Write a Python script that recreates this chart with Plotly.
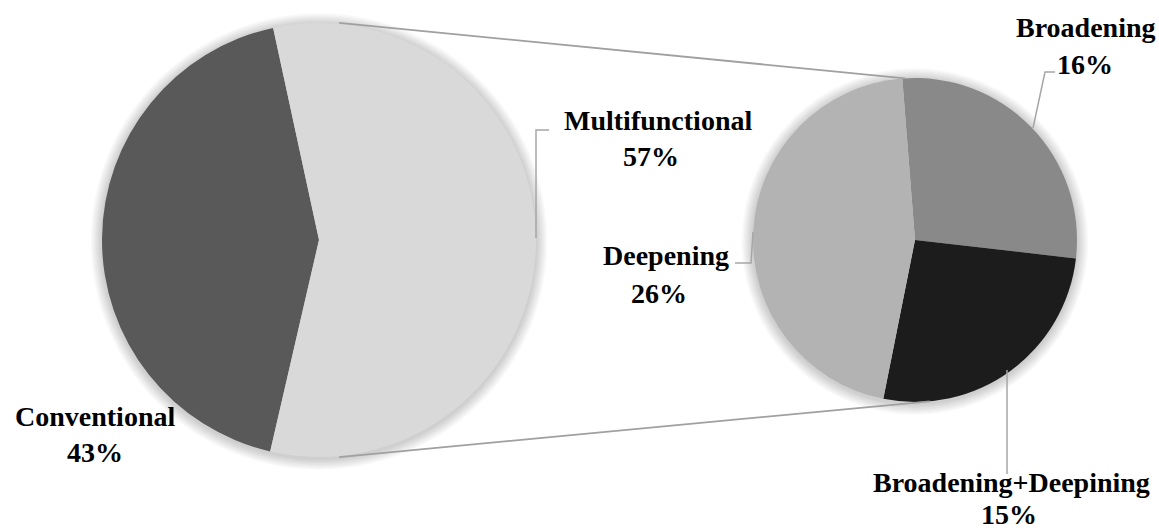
import math
import plotly.graph_objects as go

# ---- data -------------------------------------------------------------
main_labels = ["Conventional", "Multifunctional"]
main_values = [43, 57]
main_colors = ["#595959", "#d9d9d9"]

sub_labels = ["Broadening", "Broadening+Deepining", "Deepening"]
sub_values = [16, 15, 26]
sub_colors = ["#898989", "#1c1c1c", "#b3b3b3"]

# ---- canvas geometry (pixels) -----------------------------------------
W, H = 1159, 529
FONT = dict(family="Liberation Serif", size=28, color="#000000", weight="bold")

MAIN_C, MAIN_R = (319, 240), 217
SUB_C, SUB_R = (915, 240), 162


def px(x):
    return x / W


def py(y):
    return 1 - y / H


def domain(center, r):
    cx, cy = center
    return dict(x=[px(cx - r), px(cx + r)], y=[py(cy + r), py(cy - r)])


def on_circle(center, r, deg):
    """Point on a circle, angle measured clockwise from 12 o'clock."""
    a = math.radians(deg)
    return center[0] + r * math.sin(a), center[1] - r * math.cos(a)


fig = go.Figure()

fig.add_trace(go.Pie(
    labels=main_labels, values=main_values, sort=False, direction="clockwise",
    rotation=193, domain=domain(MAIN_C, MAIN_R), textinfo="none",
    hoverinfo="label+percent", showlegend=False,
    marker=dict(colors=main_colors, line=dict(width=0)),
))

fig.add_trace(go.Pie(
    labels=sub_labels, values=sub_values, sort=False, direction="clockwise",
    rotation=-4.5, domain=domain(SUB_C, SUB_R), textinfo="none",
    hoverinfo="label+value", showlegend=False,
    marker=dict(colors=sub_colors, line=dict(width=0)),
))

shapes = []

# soft drop shadow behind both pies
for center, r in ((MAIN_C, MAIN_R), (SUB_C, SUB_R)):
    for k in range(1, 8):
        rr = r + 1.6 * k
        cx, cy = center[0], center[1] + 1.5
        shapes.append(dict(
            type="circle", xref="paper", yref="paper", layer="below",
            x0=px(cx - rr), x1=px(cx + rr), y0=py(cy + rr), y1=py(cy - rr),
            fillcolor="rgba(0,0,0,0.026)", line=dict(width=0),
        ))

# connector lines between the two pies
for a_main, a_sub in ((5.3, -3.5), (174.7, 174.7)):
    x0, y0 = on_circle(MAIN_C, MAIN_R + 1, a_main)
    x1, y1 = on_circle(SUB_C, SUB_R, a_sub)
    shapes.append(dict(
        type="line", xref="paper", yref="paper", layer="above",
        x0=px(x0), y0=py(y0), x1=px(x1), y1=py(y1),
        line=dict(color="#a0a0a0", width=1.8),
    ))


def leader(points):
    path = "M " + " L ".join(f"{px(x)},{py(y)}" for x, y in points)
    return dict(type="path", path=path, xref="paper", yref="paper",
                layer="above", line=dict(color="#a6a6a6", width=1.5))


shapes += [
    leader([(536, 238), (536, 130), (549, 130)]),          # Multifunctional
    leader([(753, 232), (751, 263), (735, 263)]),          # Deepening
    leader([(1033, 128), (1045, 72), (1055, 72)]),         # Broadening
    leader([(1007, 370), (1007, 474)]),                    # Broadening+Deepining
]

# ---- data labels --------------------------------------------------------
label_pos = {
    "Conventional": ((94.5, 416), (94.5, 452)),
    "Multifunctional": ((657.5, 121), (651, 157)),
    "Deepening": ((666, 256), (659, 293)),
    "Broadening": ((1086, 28), (1085, 65)),
    "Broadening+Deepining": ((1011, 482), (1009, 514)),
}
all_labels = main_labels + sub_labels
all_values = main_values + sub_values

annotations = []
for name, val in zip(all_labels, all_values):
    if name not in label_pos:
        continue
    (nx, ny), (vx, vy) = label_pos[name]
    for text, (x, y) in ((name, (nx, ny)), (f"{val}%", (vx, vy))):
        annotations.append(dict(
            text=text, x=px(x), y=py(y), xref="paper", yref="paper",
            xanchor="center", yanchor="middle", showarrow=False, font=FONT,
        ))

fig.update_layout(
    width=W, height=H, margin=dict(l=0, r=0, t=0, b=0),
    paper_bgcolor="#ffffff", plot_bgcolor="#ffffff",
    shapes=shapes, annotations=annotations, showlegend=False,
)

fig.write_html("out.html")
